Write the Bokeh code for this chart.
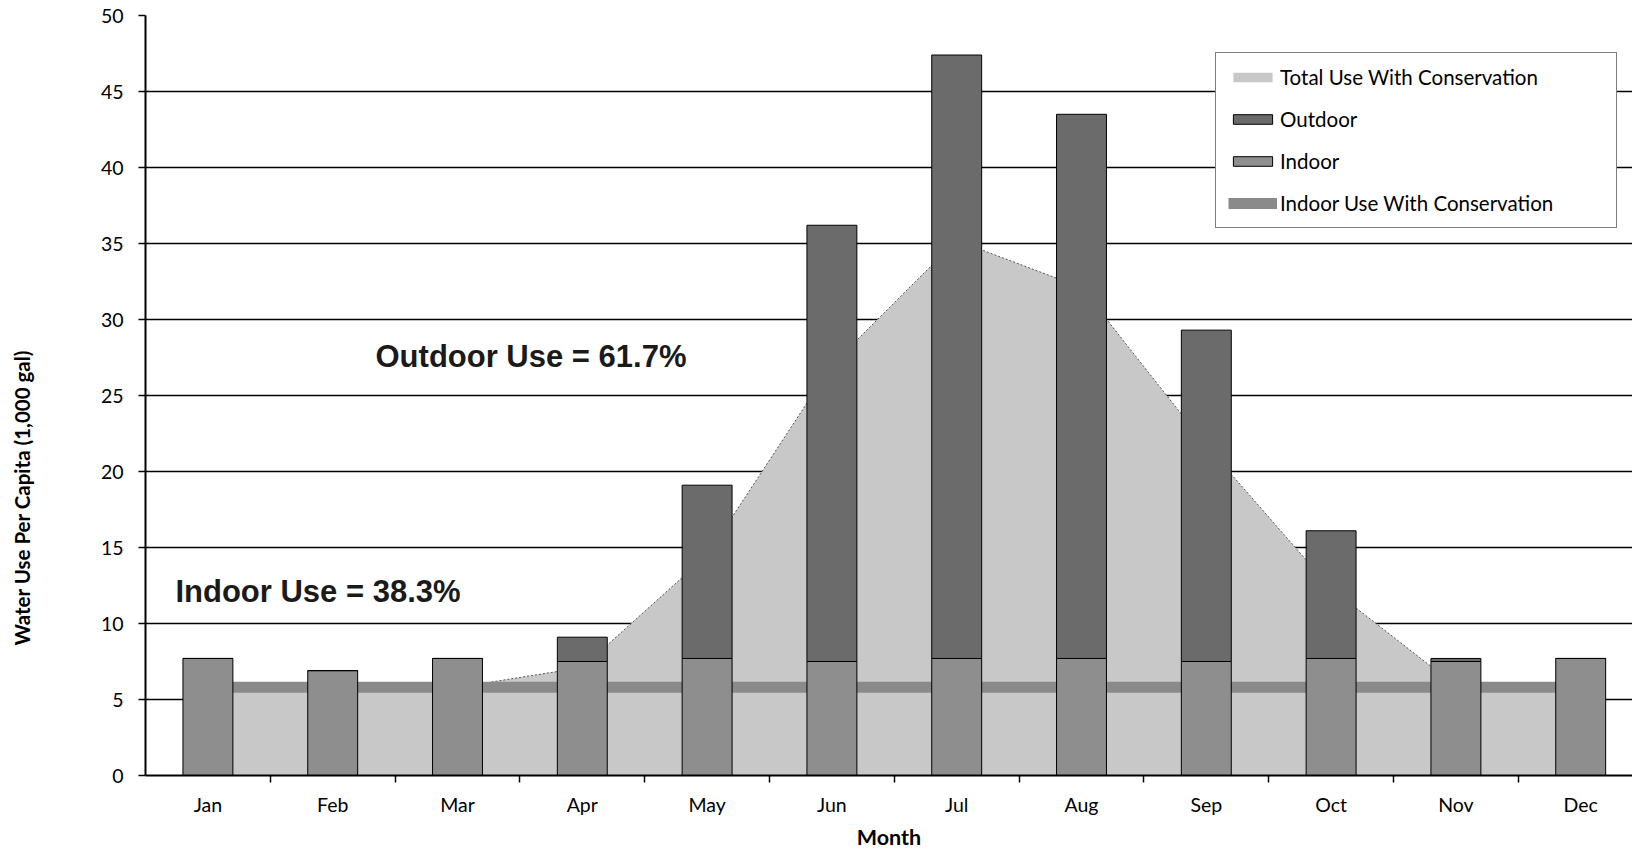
import numpy as np
from bokeh.plotting import figure
from bokeh.models import (ColumnDataSource, FixedTicker, Legend, LegendItem,
                          Label, Range1d)
from bokeh.embed import file_html
from bokeh.resources import INLINE

# ---------------- data ----------------
months = ["Jan", "Feb", "Mar", "Apr", "May", "Jun",
          "Jul", "Aug", "Sep", "Oct", "Nov", "Dec"]
indoor = [7.7, 6.9, 7.7, 7.5, 7.7, 7.5, 7.7, 7.7, 7.5, 7.7, 7.5, 7.7]
outdoor = [0.0, 0.0, 0.0, 1.6, 11.4, 28.7, 39.7, 35.8, 21.8, 8.4, 0.2, 0.0]
total_with_conservation = [5.8, 5.8, 5.8, 7.1, 14.5, 27.0, 35.2, 32.1, 21.7, 12.3, 5.9, 5.8]
indoor_with_conservation = [5.8, 5.8, 5.8, 5.8, 5.8, 5.8, 5.8, 5.8, 5.8, 5.8, 5.8, 5.8]
y_ticks = [0, 5, 10, 15, 20, 25, 30, 35, 40, 45, 50]
y_title = "Water Use Per Capita (1,000 gal)"
x_title = "Month"
outdoor_note = "Outdoor Use = 61.7%"
indoor_note = "Indoor Use = 38.3%"

x = list(range(len(months)))
src = ColumnDataSource(dict(
    x=x, month=months, indoor=indoor, outdoor=outdoor,
    total=total_with_conservation, indoor_cons=indoor_with_conservation,
    zero=[0.0] * len(months)))

FONT = "Lato"

p = figure(width=1632, height=853,
           x_range=Range1d(-0.5, 11.415), y_range=Range1d(0, 50),
           output_backend="svg", toolbar_location=None,
           min_border_left=145, min_border_right=0,
           min_border_top=15, min_border_bottom=78)
p.outline_line_color = None
p.background_fill_color = "white"

# area: total use with conservation
area = p.varea(x="x", y1="zero", y2="total", source=src,
               fill_color="#c8c8c8")
p.line(x="x", y="total", source=src, line_color="#555555",
       line_width=1, line_dash="2 2")

# thick line: indoor use with conservation
cons = p.line(x="x", y="indoor_cons", source=src, line_color="#8a8a8a",
              line_width=11)

# stacked columns
bars = p.vbar_stack(["indoor", "outdoor"], x="x", width=0.4, source=src,
                    fill_color=["#8e8e8e", "#6b6b6b"],
                    line_color="black", line_width=1)

# ---------------- axes ----------------
p.xaxis.ticker = FixedTicker(ticks=x, minor_ticks=[i + 0.5 for i in x[:-1]])
p.xaxis.major_label_overrides = {i: m for i, m in zip(x, months)}
p.xaxis.major_tick_out = 0
p.xaxis.major_tick_in = 0
p.xaxis.minor_tick_out = 7
p.xaxis.minor_tick_in = 0
p.xaxis.minor_tick_line_color = "black"
p.xaxis.minor_tick_line_width = 1.5
p.xaxis.major_label_standoff = 10
p.xaxis.axis_label = x_title
p.xaxis.axis_label_standoff = 5
p.xaxis.axis_label_text_font_size = "21.5px"

p.yaxis.ticker = FixedTicker(ticks=y_ticks, minor_ticks=[])
p.yaxis.major_tick_out = 7
p.yaxis.major_tick_in = 0
p.yaxis.major_tick_line_color = "black"
p.yaxis.major_tick_line_width = 1.5
p.yaxis.major_label_standoff = 15
# the title sits below the axis centre in the reference: pad its end
# with no-break spaces so the visible words move down
p.yaxis.axis_label = y_title + "\u00a0" * 41
p.yaxis.axis_label_standoff = 64
p.yaxis.axis_label_text_font_size = "20.5px"

for ax in (p.xaxis, p.yaxis):
    ax.axis_line_color = "black"
    ax.axis_line_width = 2
    ax.major_label_text_font = FONT
    ax.major_label_text_font_size = "19.5px"
    ax.major_label_text_color = "black"
    ax.axis_label_text_font = FONT
    ax.axis_label_text_font_style = "bold"
    ax.axis_label_text_color = "black"

p.xgrid.grid_line_color = None
p.ygrid.ticker = FixedTicker(ticks=y_ticks)
p.ygrid.grid_line_color = "black"
p.ygrid.grid_line_width = 1.3

# ---------------- notes ----------------
for txt, xx, yy in [(outdoor_note, 1.343, 27.57), (indoor_note, -0.26, 12.1)]:
    p.add_layout(Label(x=xx, y=yy, text=txt, text_font="Liberation Sans",
                       text_font_style="bold", text_font_size="31px",
                       text_color="#1a1a1a", text_baseline="middle"))

# ---------------- legend ----------------
legend = Legend(items=[
    LegendItem(label="Total Use With Conservation", renderers=[area]),
    LegendItem(label="Outdoor", renderers=[bars[1]]),
    LegendItem(label="Indoor", renderers=[bars[0]]),
    LegendItem(label="Indoor Use With Conservation", renderers=[cons]),
], location=(1070, 547), orientation="vertical",
    border_line_color="black", border_line_width=1.5,
    background_fill_color="white", background_fill_alpha=1.0,
    padding=12, margin=0, spacing=18,
    glyph_width=49, glyph_height=12, label_height=21,
    label_width=324, label_standoff=3,
    label_text_font=FONT, label_text_font_size="20.5px",
    label_text_color="black")
p.add_layout(legend)

open("out.html", "w").write(file_html(p, INLINE))
